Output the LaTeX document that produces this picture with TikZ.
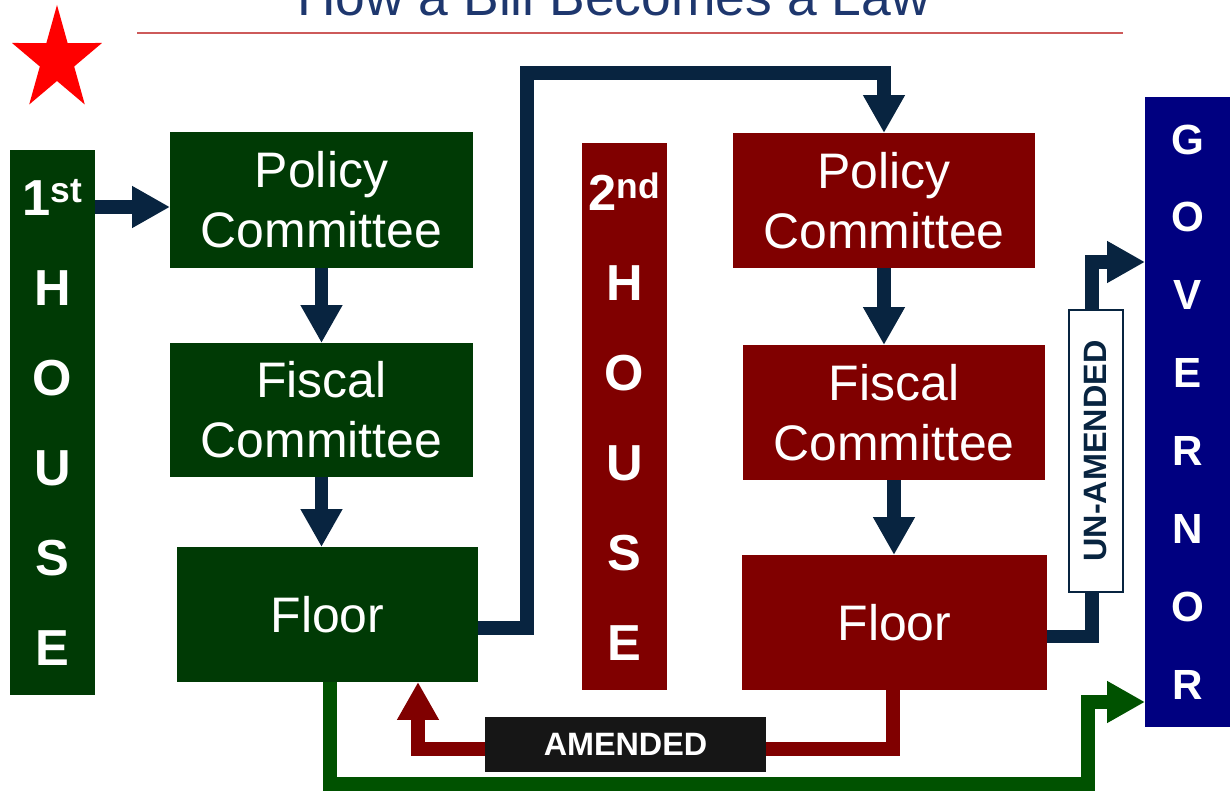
\documentclass[tikz,border=0pt]{standalone}
\usepackage{fontspec}
\setmainfont{Liberation Sans}
\usetikzlibrary{arrows.meta,calc,backgrounds}
\definecolor{hgreen}{RGB}{0,58,5}
\definecolor{hred}{RGB}{128,0,0}
\definecolor{gblue}{RGB}{0,0,128}
\definecolor{anavy}{RGB}{8,36,64}
\definecolor{agreen}{RGB}{0,82,0}
\definecolor{tblue}{RGB}{30,55,110}
\definecolor{tline}{RGB}{205,90,90}
\definecolor{ablack}{RGB}{22,22,22}
\begin{document}
\begin{tikzpicture}[x=0.025cm,y=-0.025cm,
  box/.style={rectangle, inner sep=0pt, outer sep=0pt, text=white, align=center},
  wh/.style 2 args={minimum width=#1*0.025cm, minimum height=#2*0.025cm},
  stepbox/.style={box, font=\fontsize{35.5}{42.5}\selectfont},
  greenbox/.style={stepbox, fill=hgreen},
  redbox/.style={stepbox, fill=hred},
  tallbox/.style={box, font=\fontsize{36}{64}\selectfont\bfseries},
  conn/.style={line width=9.5pt, -{Triangle[length=27pt,width=28pt]}},
  tag/.style={rectangle, inner sep=0pt, outer sep=0pt, font=\fontsize{23}{23}\selectfont\bfseries},
]
\useasboundingbox (0,0) rectangle (1230,793);
\clip (0,0) rectangle (1230,793);

% title
\node[font=\fontsize{38}{38}\selectfont, text=tblue, anchor=base, inner sep=0pt] (title) at (613.5,16) {How a Bill Becomes a Law};
\draw[tline, line width=1.4pt] (137,33) -- (1123,33);

% star
\fill[red, shift={(57,60)}, xscale=0.86, yscale=-1]
  (90:55) -- (126:21) -- (162:55) -- (198:21) -- (234:55) -- (270:21)
  -- (306:55) -- (342:21) -- (18:55) -- (54:21) -- cycle;

% first house
\node[tallbox, fill=hgreen, wh={85}{545}] (h1) at (52.5,422.5) {1\textsuperscript{st}\\H\\O\\U\\S\\E};
\node[greenbox, wh={303}{136}] (p1) at (321.5,200) {Policy\\Committee};
\node[greenbox, wh={303}{134}] (f1) at (321.5,410) {Fiscal\\Committee};
\node[greenbox, wh={301}{135}] (fl1) at (327.5,614.5) {Floor};

% second house
\node[tallbox, fill=hred, wh={85}{547}] (h2) at (624.5,416.5) {2\textsuperscript{nd}\\H\\O\\U\\S\\E};
\node[redbox, wh={302}{135}] (p2) at (884,200.5) {Policy\\Committee};
\node[redbox, wh={302}{135}] (f2) at (894,412.5) {Fiscal\\Committee};
\node[redbox, wh={305}{135}] (fl2) at (894.5,622.5) {Floor};

% governor
\node[box, fill=gblue, wh={85}{630}, font=\fontsize{30}{55.4}\selectfont\bfseries] (gov) at (1187.5,412) {G\\O\\V\\E\\R\\N\\O\\R};

% labels
\node[tag, fill=white, draw=anavy, line width=0.8pt, text=anavy, wh={282}{54}, rotate=90] (un) at (1096,451) {UN-AMENDED};
\node[tag, fill=ablack, text=white, wh={281}{55}] (am) at (625.5,744.5) {AMENDED};

\coordinate (c1) at (527,73);
\coordinate (c2) at (1092,262);
\coordinate (c3) at (418,749);
\coordinate (c4) at (1088,784);
\coordinate (c5) at (1088,702);

\begin{scope}[on background layer]
\draw[conn, anavy] (h1.east |- 0,207) -- (p1.west |- 0,207);
\draw[conn, anavy] (p1.south) -- (f1.north);
\draw[conn, anavy] (f1.south) -- (f1.south |- fl1.north);
\draw[conn, anavy] ($(fl1.east)+(0,13.5)$) -| (c1) -| (p2.north);
\draw[conn, anavy] (p2.south) -- (p2.south |- f2.north);
\draw[conn, anavy] (f2.south) -- (f2.south |- fl2.north);
\draw[conn, anavy] ($(fl2.east)+(0,14)$) -| (c2) -- (c2 -| gov.west);
\draw[conn, hred] ($(fl2.south)+(-1.5,0)$) |- (c3) -- (c3 |- fl1.south);
\draw[conn, agreen] ($(fl1.south)+(2.5,0)$) |- (c4) -- (c5) -- (c5 -| gov.west);
\end{scope}
\end{tikzpicture}
\end{document}
